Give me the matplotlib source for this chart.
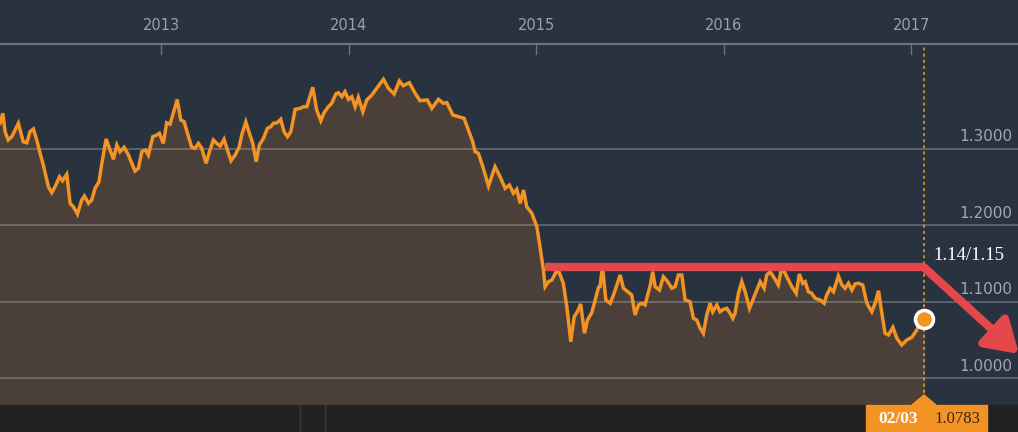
import numpy as np
import matplotlib
matplotlib.use('Agg')
import matplotlib.pyplot as plt
import matplotlib.transforms as mtransforms
from matplotlib.patches import Rectangle, Polygon

# EUR/USD weekly closes (decimal year, rate)
years = [2012.141, 2012.156, 2012.168, 2012.185, 2012.204, 2012.239, 2012.265, 2012.284, 2012.301, 2012.319,
         2012.337, 2012.355, 2012.372, 2012.399, 2012.417, 2012.435, 2012.458, 2012.474, 2012.497, 2012.515,
         2012.532, 2012.554, 2012.577, 2012.591, 2012.613, 2012.630, 2012.648, 2012.669, 2012.684, 2012.707,
         2012.728, 2012.746, 2012.764, 2012.781, 2012.803, 2012.826, 2012.844, 2012.861, 2012.879, 2012.897,
         2012.918, 2012.932, 2012.956, 2012.977, 2012.991, 2013.012, 2013.030, 2013.048, 2013.086, 2013.105,
         2013.123, 2013.146, 2013.164, 2013.181, 2013.199, 2013.217, 2013.240, 2013.258, 2013.279, 2013.297,
         2013.315, 2013.336, 2013.354, 2013.373, 2013.395, 2013.416, 2013.430, 2013.452, 2013.471, 2013.489,
         2013.507, 2013.524, 2013.546, 2013.567, 2013.585, 2013.599, 2013.620, 2013.638, 2013.656, 2013.674,
         2013.692, 2013.715, 2013.741, 2013.759, 2013.777, 2013.809, 2013.830, 2013.852, 2013.869, 2013.892,
         2013.910, 2013.932, 2013.946, 2013.964, 2013.981, 2013.999, 2014.017, 2014.035, 2014.052, 2014.076,
         2014.097, 2014.124, 2014.150, 2014.186, 2014.212, 2014.243, 2014.271, 2014.292, 2014.324, 2014.355,
         2014.381, 2014.420, 2014.444, 2014.479, 2014.505, 2014.524, 2014.556, 2014.586, 2014.616, 2014.639,
         2014.662, 2014.675, 2014.692, 2014.716, 2014.746, 2014.781, 2014.808, 2014.835, 2014.858, 2014.879,
         2014.897, 2014.915, 2014.933, 2014.950, 2014.977, 2015.004, 2015.021, 2015.039, 2015.048, 2015.066,
         2015.084, 2015.107, 2015.124, 2015.145, 2015.164, 2015.185, 2015.203, 2015.220, 2015.238, 2015.258,
         2015.274, 2015.297, 2015.315, 2015.333, 2015.341, 2015.354, 2015.372, 2015.395, 2015.416, 2015.448,
         2015.466, 2015.489, 2015.510, 2015.528, 2015.546, 2015.564, 2015.581, 2015.608, 2015.622, 2015.635,
         2015.658, 2015.679, 2015.702, 2015.724, 2015.741, 2015.759, 2015.777, 2015.795, 2015.821, 2015.839,
         2015.857, 2015.875, 2015.892, 2015.910, 2015.928, 2015.942, 2015.964, 2015.981, 2015.999, 2016.017,
         2016.035, 2016.049, 2016.061, 2016.079, 2016.097, 2016.115, 2016.138, 2016.156, 2016.177, 2016.195,
         2016.216, 2016.230, 2016.248, 2016.266, 2016.292, 2016.305, 2016.319, 2016.337, 2016.364, 2016.387,
         2016.404, 2016.422, 2016.435, 2016.452, 2016.470, 2016.488, 2016.515, 2016.536, 2016.550, 2016.568,
         2016.586, 2016.612, 2016.631, 2016.648, 2016.666, 2016.684, 2016.701, 2016.719, 2016.742, 2016.764,
         2016.790, 2016.808, 2016.826, 2016.844, 2016.861, 2016.879, 2016.903, 2016.924, 2016.950, 2016.977,
         2017.004, 2017.030, 2017.048, 2017.069]
rates = [1.3332, 1.3462, 1.3222, 1.3114, 1.3157, 1.3332, 1.3091, 1.3078, 1.3222, 1.3257,
         1.3114, 1.2940, 1.2787, 1.2504, 1.2426, 1.2504, 1.2634, 1.2582, 1.2666, 1.2287,
         1.2243, 1.2148, 1.2330, 1.2383, 1.2287, 1.2330, 1.2483, 1.2569, 1.2809, 1.3127,
         1.2983, 1.2862, 1.3048, 1.2961, 1.3018, 1.2918, 1.2809, 1.2709, 1.2744, 1.2961,
         1.2983, 1.2918, 1.3157, 1.3179, 1.3201, 1.3070, 1.3339, 1.3320, 1.3642, 1.3375,
         1.3352, 1.3157, 1.3018, 1.3005, 1.3070, 1.3005, 1.2809, 1.2961, 1.3114, 1.3070,
         1.3035, 1.3123, 1.2983, 1.2843, 1.2918, 1.3018, 1.3179, 1.3349, 1.3201, 1.3070,
         1.2830, 1.3048, 1.3136, 1.3266, 1.3287, 1.3332, 1.3339, 1.3384, 1.3222, 1.3157,
         1.3222, 1.3514, 1.3527, 1.3548, 1.3548, 1.3802, 1.3505, 1.3366, 1.3470, 1.3548,
         1.3593, 1.3714, 1.3731, 1.3679, 1.3744, 1.3645, 1.3679, 1.3548, 1.3671, 1.3483,
         1.3636, 1.3701, 1.3789, 1.3906, 1.3789, 1.3714, 1.3884, 1.3822, 1.3862, 1.3723,
         1.3627, 1.3636, 1.3527, 1.3645, 1.3593, 1.3601, 1.3440, 1.3418, 1.3397, 1.3244,
         1.3091, 1.2961, 1.2940, 1.2765, 1.2513, 1.2765, 1.2634, 1.2483, 1.2526, 1.2418,
         1.2470, 1.2287, 1.2461, 1.2243, 1.2157, 1.1982, 1.1717, 1.1416, 1.1198, 1.1264,
         1.1286, 1.1394, 1.1381, 1.1243, 1.0937, 1.0480, 1.0807, 1.0872, 1.0973, 1.0590,
         1.0764, 1.0859, 1.1025, 1.1191, 1.1198, 1.1460, 1.1025, 1.0982, 1.1112, 1.1351,
         1.1178, 1.1133, 1.1090, 1.0829, 1.0960, 1.0982, 1.0960, 1.1208, 1.1394, 1.1198,
         1.1155, 1.1329, 1.1264, 1.1178, 1.1198, 1.1351, 1.1351, 1.1025, 1.1003, 1.0786,
         1.0764, 1.0655, 1.0590, 1.0829, 1.0982, 1.0872, 1.0960, 1.0872, 1.0903, 1.0916,
         1.0851, 1.0786, 1.0851, 1.1112, 1.1264, 1.1133, 1.0916, 1.1025, 1.1155, 1.1264,
         1.1178, 1.1351, 1.1394, 1.1329, 1.1221, 1.1394, 1.1416, 1.1329, 1.1198, 1.1112,
         1.1364, 1.1243, 1.1264, 1.1133, 1.1112, 1.1047, 1.1025, 1.0982, 1.1090, 1.1178,
         1.1133, 1.1338, 1.1221, 1.1178, 1.1243, 1.1155, 1.1234, 1.1243, 1.1221, 1.0982,
         1.0872, 1.0982, 1.1146, 1.0851, 1.0590, 1.0568, 1.0668, 1.0525, 1.0438, 1.0503,
         1.0538, 1.0633, 1.0742, 1.0783]

year_ticks = [2013, 2014, 2015, 2016, 2017]
price_ticks = [1.0, 1.1, 1.2, 1.3]
resistance = 1.145
resistance_start = 2015.05
arrow_end = (2017.575, 1.032)
last_date = '02/03'
last_rate = 1.0783

navy = '#29323f'
brown = '#4a4039'
orange = '#f39323'
red = '#e5484b'

fig = plt.figure(figsize=(10.18, 4.32), dpi=100)
fig.patch.set_facecolor(navy)
ax = fig.add_axes([0, 27 / 432, 1, 361 / 432])
ax.set_facecolor(navy)
ax.set_xlim(2012.141, 2017.570)
ax.set_ylim(0.9654, 1.4367)
for s in ax.spines.values():
    s.set_visible(False)
ax.set_xticks([])
ax.set_yticks([])

# price area
ax.fill_between(years, rates, 0.9, color=brown, zorder=1)
for p in price_ticks:
    ax.axhline(p, color='#9a9a9a', lw=1.2, alpha=0.55, zorder=2)
    ax.text(2017.54, p + 0.016, '%.4f' % p, color='#a2a7ae', fontsize=11,
            ha='right', va='center', zorder=3)
ax.plot(years, rates, color=orange, lw=2.5, zorder=4, solid_joinstyle='miter')

# current date marker
ax.axvline(years[-1], color='#e8a227', lw=1.1, ls=(0, (2, 2)), zorder=3)
ax.plot(years[-1], rates[-1], 'o', ms=13, mfc=orange, mec='white', mew=2.5, zorder=7)

# resistance line + arrow
ax.plot([resistance_start, years[-1]], [resistance, resistance], color=red, lw=6,
        solid_capstyle='butt', zorder=5)
ax.annotate('', xy=arrow_end, xytext=(years[-1], resistance), annotation_clip=False,
            arrowprops=dict(arrowstyle='-|>,head_length=1.9,head_width=1.2', color=red,
                            lw=6, shrinkA=0, shrinkB=0), zorder=6)
ax.text(years[-1] + 0.05, resistance + 0.016, '1.14/1.15', color='white', fontsize=13.5,
        family=['Liberation Serif', 'DejaVu Serif'], ha='left', va='center', zorder=6)

# top axis line, ticks and year labels
trans = mtransforms.blended_transform_factory(ax.transData, fig.transFigure)
fig.add_artist(plt.Line2D([0, 1], [1 - 44 / 432, 1 - 44 / 432], color='#6d737b', lw=1.5))
for yr in year_ticks:
    ax.plot([yr, yr], [1 - 44 / 432, 1 - 54 / 432], color='#6d737b', lw=1, transform=trans,
            clip_on=False)
    ax.text(yr, 1 - 26 / 432, str(yr), color='#9ba1a9', fontsize=10.5, ha='center', va='center',
            transform=trans)

# bottom scroll bar
fig.add_artist(Rectangle((0, 0), 1, 27 / 432, transform=fig.transFigure, color='#222222'))
for xp in [300, 325]:
    fig.add_artist(plt.Line2D([xp / 1018, xp / 1018], [0, 27 / 432], color='#3a3a3a', lw=1))

# last value tag
fig.add_artist(Rectangle((866 / 1018, 0), 121 / 1018, 27 / 432, transform=fig.transFigure,
                         color=orange))
fig.add_artist(Polygon([[912 / 1018, 27 / 432], [936 / 1018, 27 / 432], [924 / 1018, 37 / 432]],
                       closed=True, transform=fig.transFigure, color=orange))
fig.text(898 / 1018, 13 / 432, last_date, color='white', fontsize=12.5, fontweight='bold',
         family=['Liberation Serif', 'DejaVu Serif'], ha='center', va='center')
fig.text(957 / 1018, 13 / 432, '%.4f' % last_rate, color='#3a2610', fontsize=12,
         family=['Liberation Serif', 'DejaVu Serif'], ha='center', va='center')

fig.savefig('out.png', dpi=100, facecolor=navy)
